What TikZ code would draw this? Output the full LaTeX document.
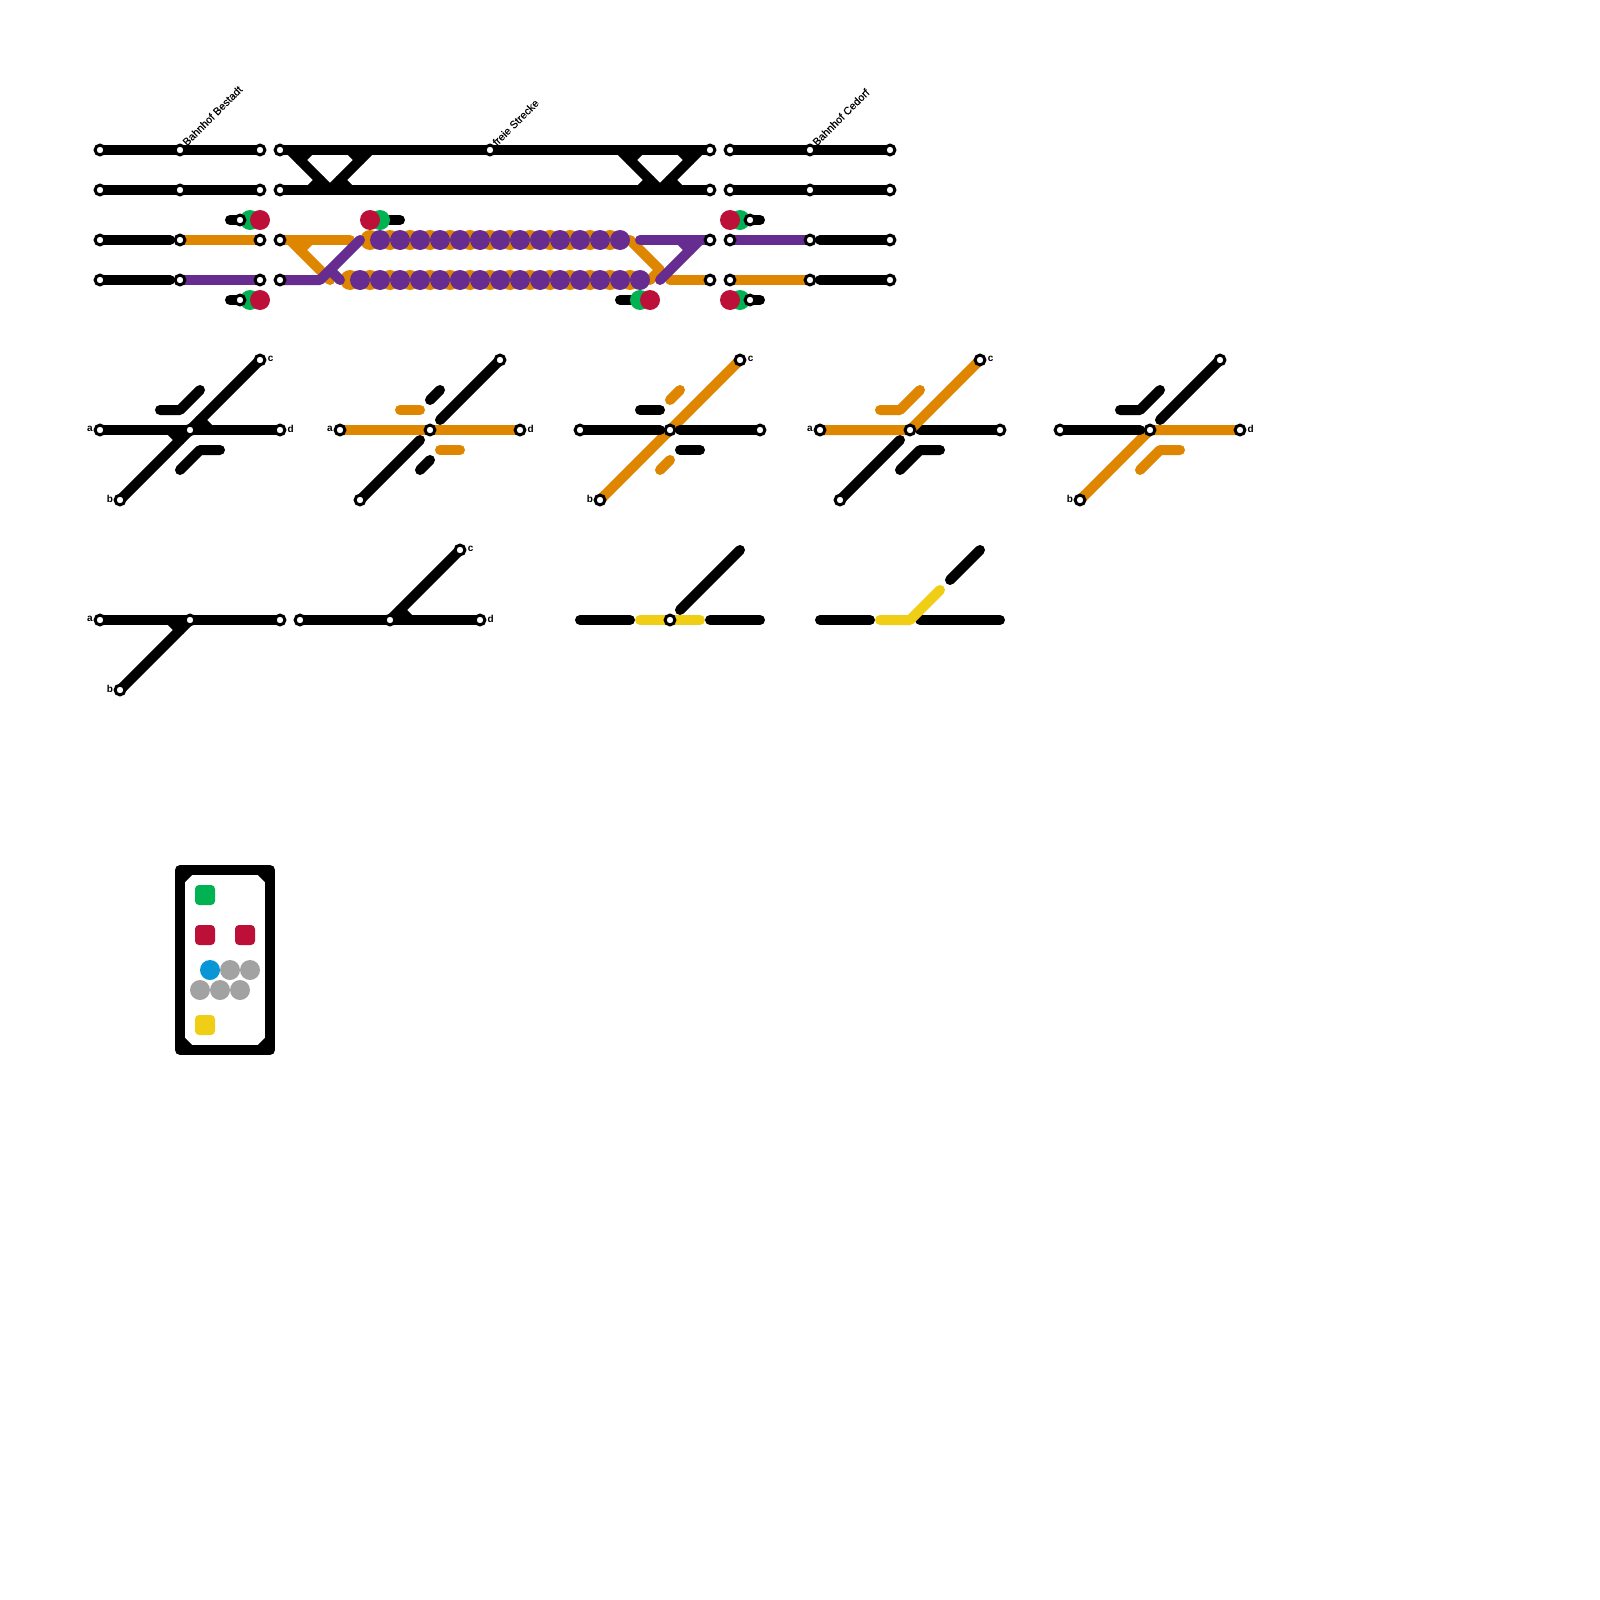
\documentclass[tikz,border=0pt]{standalone}
\usepackage{fontspec}
\setmainfont{Liberation Sans}
\newfontfamily\stfont{Liberation Sans}[FakeBold=0.35]
\definecolor{morange}{HTML}{DF8600}
\definecolor{mpurple}{HTML}{662C90}
\definecolor{mgreen}{HTML}{00B251}
\definecolor{mred}{HTML}{BD1038}
\definecolor{myellow}{HTML}{F0CE15}
\definecolor{mblue}{HTML}{0896D7}
\definecolor{mgrey}{HTML}{A2A2A2}
\tikzset{
  trk/.style={line width=10pt,line cap=round,line join=round},
  blk/.style={trk,black},
  org/.style={trk,morange},
  pur/.style={trk,mpurple},
  yel/.style={trk,myellow},
  stn/.style={circle,draw=black,fill=white,line width=3pt,inner sep=0pt,outer sep=0pt,minimum size=9.8pt},
  dot/.style={circle,inner sep=0pt,outer sep=0pt,minimum size=20pt},
  sq/.style={rectangle,rounded corners=4pt,inner sep=0pt,outer sep=0pt,minimum size=20pt},
  lab/.style={font=\fontsize{10}{10}\selectfont\bfseries,inner sep=0pt,text=black},
  stlab/.style={font=\stfont\fontsize{10.7}{10.7}\selectfont,inner sep=0pt,rotate=45,anchor=base west,text=black},
}
\begin{document}
\begin{tikzpicture}[x=1pt,y=-1pt]
\useasboundingbox (0,0) rectangle (1600,1600);
% named points
\foreach \n/\x/\y in {
 A1/100/150,A2/180/150,A3/260/150,B1/100/190,B2/180/190,B3/260/190,
 C1/100/240,C0/170/240,C2/180/240,C3/260/240,D1/100/280,D0/170/280,D2/180/280,D3/260/280,
 Sa/240/220,Sa0/230/220,Sb/240/300,Sb0/230/300,
 E1/280/150,E2/490/150,E3/710/150,F1/280/190,F3/710/190,
 G1/280/240,G2/350/240,G3/710/240,H1/280/280,H2/320/280,H3/710/280,
 x1/290/150,x2/330/190,x3/370/150,x4/620/150,x5/660/190,x6/700/150,
 c1a/310/150,c1b/300/160,c2a/350/150,c2b/360/160,c3a/310/190,c3b/320/180,c4a/350/190,c4b/340/180,
 c5a/640/150,c5b/630/160,c6a/680/150,c6b/690/160,c7a/640/190,c7b/650/180,c8a/680/190,c8b/670/180,
 o1/290/240,o2/330/280,o3/310/240,o4/300/250,
 p1/360/240,p2/330/270,p3/340/280,
 o5/630/240,o6/660/270,o7/650/280,o8/670/280,
 p4/640/240,p5/660/280,p6/680/240,p7/690/250,p8/700/240,
 s1/380/220,s2/400/220,s3/620/300,s4/640/300,
 J1/730/150,J2/810/150,J3/890/150,K1/730/190,K2/810/190,K3/890/190,
 L1/730/240,L2/810/240,L0/820/240,L3/890/240,M1/730/280,M2/810/280,M0/820/280,M3/890/280,
 Sc/750/220,Sc0/760/220,Sd/750/300,Sd0/760/300,
 %
 a1/100/430,m1/190/430,d1/280/430,b1/120/500,e1/260/360,
 f1/170/430,f2/180/440,f3/210/430,f4/200/420,
 u1/160/410,u2/180/410,u3/200/390,v1/180/470,v2/200/450,v3/220/450,
 a2/340/430,m2/430/430,d2/520/430,b2/360/500,e2/500/360,
 i2/420/440,j2/440/420,u4/400/410,u5/420/410,u6/430/400,u7/440/390,v4/440/450,v5/460/450,v6/420/470,v7/430/460,
 a3/580/430,m3/670/430,d3/760/430,b3/600/500,e3/740/360,
 i3/660/430,j3/680/430,u8/640/410,u9/660/410,u10/670/400,u11/680/390,v8/680/450,v9/700/450,v10/660/470,v11/670/460,
 a4/820/430,m4/910/430,d4/1000/430,b4/840/500,e4/980/360,
 i4/900/440,j4/920/430,u12/880/410,u13/900/410,u14/920/390,v12/900/470,v13/920/450,v14/940/450,
 a5/1060/430,m5/1150/430,d5/1240/430,b5/1080/500,e5/1220/360,
 i5/1140/430,j5/1160/420,u15/1120/410,u16/1140/410,u17/1160/390,v15/1140/470,v16/1160/450,v17/1180/450,
 %
 a6/100/620,m6/190/620,d6/280/620,b6/120/690,f5/170/620,f6/180/630,
 a7/300/620,m7/390/620,d7/480/620,e7/460/550,f7/410/620,f8/400/610,
 y1/580/620,y2/630/620,y3/640/620,m8/670/620,y4/700/620,y5/710/620,y6/760/620,y7/680/610,y8/740/550,
 w1/820/620,w2/870/620,w3/880/620,w4/910/620,w5/940/590,w6/950/580,w7/980/550,w8/920/620,w9/1000/620,
 %
 r1/180/870,r2/270/870,r3/270/1050,r4/180/1050,
 q1/190/870,q2/180/880,q3/260/870,q4/270/880,q5/270/1040,q6/260/1050,q7/190/1050,q8/180/1040
}{\coordinate (\n) at (\x,\y);}

% upper left block
\draw[blk] (A1)--(A3);
\draw[blk] (B1)--(B3);
\draw[blk] (C1)--(C0);
\draw[blk] (D1)--(D0);
\draw[org] (C2)--(C3);
\draw[pur] (D2)--(D3);
\draw[blk] (Sa0)--(Sa);
\draw[blk] (Sb0)--(Sb);
\node[dot,fill=mgreen] (ga) at (250,220) {};
\node[dot,fill=mred] (ra) at (260,220) {};
\node[dot,fill=mgreen] (gb) at (250,300) {};
\node[dot,fill=mred] (rb) at (260,300) {};

% middle block
\draw[blk] (E1)--(E3);
\draw[blk] (F1)--(F3);
\draw[blk] (x1)--(x2)--(x3);
\draw[blk] (x4)--(x5)--(x6);
\draw[blk] (c1a)--(c1b);
\draw[blk] (c2a)--(c2b);
\draw[blk] (c3a)--(c3b);
\draw[blk] (c4a)--(c4b);
\draw[blk] (c5a)--(c5b);
\draw[blk] (c6a)--(c6b);
\draw[blk] (c7a)--(c7b);
\draw[blk] (c8a)--(c8b);

\draw[org] (G1)--(G2);
\draw[org] (o1)--(o2);
\draw[org] (o3)--(o4);
\draw[org] (o5)--(o6)--(o7);
\draw[org] (o8)--(H3);
\foreach \x in {370,390,...,610} \node[dot,fill=morange] (ot\x) at (\x,240) {};
\foreach \x in {350,370,...,630} \node[dot,fill=morange] (ob\x) at (\x,280) {};
\foreach \x in {380,400,...,620} \node[dot,fill=mpurple] (pt\x) at (\x,240) {};
\foreach \x in {360,380,...,640} \node[dot,fill=mpurple] (pb\x) at (\x,280) {};
\draw[pur] (H1)--(H2)--(p1);
\draw[pur] (p2)--(p3);
\draw[pur] (p4)--(G3);
\draw[pur] (p8)--(p5);
\draw[pur] (p6)--(p7);

\draw[blk] (s1)--(s2);
\draw[blk] (s3)--(s4);
\node[dot,fill=mgreen] (gc) at (380,220) {};
\node[dot,fill=mred] (rc) at (370,220) {};
\node[dot,fill=mgreen] (gd) at (640,300) {};
\node[dot,fill=mred] (rd) at (650,300) {};

% upper right block
\draw[blk] (J1)--(J3);
\draw[blk] (K1)--(K3);
\draw[pur] (L1)--(L2);
\draw[org] (M1)--(M2);
\draw[blk] (L0)--(L3);
\draw[blk] (M0)--(M3);
\draw[blk] (Sc)--(Sc0);
\draw[blk] (Sd)--(Sd0);
\node[dot,fill=mgreen] (ge) at (740,220) {};
\node[dot,fill=mred] (re) at (730,220) {};
\node[dot,fill=mgreen] (gf) at (740,300) {};
\node[dot,fill=mred] (rf) at (730,300) {};

% switch 1
\draw[blk] (a1)--(d1);
\draw[blk] (b1)--(e1);
\draw[blk] (f1)--(f2);
\draw[blk] (f3)--(f4);
\draw[blk] (u1)--(u2)--(u3);
\draw[blk] (v1)--(v2)--(v3);
% switch 2
\draw[org] (a2)--(d2);
\draw[blk] (b2)--(i2);
\draw[blk] (j2)--(e2);
\draw[org] (u4)--(u5);
\draw[blk] (u6)--(u7);
\draw[org] (v4)--(v5);
\draw[blk] (v6)--(v7);
% switch 3
\draw[org] (b3)--(e3);
\draw[blk] (a3)--(i3);
\draw[blk] (j3)--(d3);
\draw[blk] (u8)--(u9);
\draw[org] (u10)--(u11);
\draw[blk] (v8)--(v9);
\draw[org] (v10)--(v11);
% switch 4
\draw[blk] (b4)--(i4);
\draw[blk] (j4)--(d4);
\draw[org] (a4)--(m4)--(e4);
\draw[org] (u12)--(u13)--(u14);
\draw[blk] (v12)--(v13)--(v14);
% switch 5
\draw[org] (b5)--(m5)--(d5);
\draw[blk] (a5)--(i5);
\draw[blk] (j5)--(e5);
\draw[blk] (u15)--(u16)--(u17);
\draw[org] (v15)--(v16)--(v17);
% switch 6, 7
\draw[blk] (a6)--(d6);
\draw[blk] (b6)--(m6);
\draw[blk] (f5)--(f6);
\draw[blk] (a7)--(d7);
\draw[blk] (m7)--(e7);
\draw[blk] (f7)--(f8);
% switch 8
\draw[blk] (y1)--(y2);
\draw[yel] (y3)--(y4);
\draw[blk] (y5)--(y6);
\draw[blk] (y7)--(y8);
% switch 9
\draw[blk] (w1)--(w2);
\draw[blk] (w8)--(w9);
\draw[yel] (w3)--(w4)--(w5);
\draw[blk] (w6)--(w7);

% legend
\draw[blk,line cap=butt] (r1)--(r2)--(r3)--(r4)--cycle;
\draw[blk] (q1)--(q2);
\draw[blk] (q3)--(q4);
\draw[blk] (q5)--(q6);
\draw[blk] (q7)--(q8);
\node[sq,fill=mgreen] (lg) at (205,895) {};
\node[sq,fill=mred] (lr1) at (205,935) {};
\node[sq,fill=mred] (lr2) at (245,935) {};
\node[sq,fill=myellow] (ly) at (205,1025) {};
\node[dot,fill=mblue] (lb) at (210,970) {};
\node[dot,fill=mgrey] (lg1) at (230,970) {};
\node[dot,fill=mgrey] (lg2) at (250,970) {};
\node[dot,fill=mgrey] (lg3) at (200,990) {};
\node[dot,fill=mgrey] (lg4) at (220,990) {};
\node[dot,fill=mgrey] (lg5) at (240,990) {};

% stations
\foreach \n in {A1,A2,A3,B1,B2,B3,C1,C2,C3,D1,D2,D3,Sa,Sb,
  E1,E2,E3,F1,F3,G1,G3,H1,H3,
  J1,J2,J3,K1,K2,K3,L1,L2,L3,M1,M2,M3,Sc,Sd,
  a1,m1,d1,b1,e1,a2,m2,d2,b2,e2,a3,m3,d3,b3,e3,a4,m4,d4,b4,e4,a5,m5,d5,b5,e5,
  a6,m6,d6,b6,a7,m7,d7,e7,m8}
  \node[stn] (st\n) at (\n) {};

% station labels
\node[stlab] (tb) at (187,146.5) {Bahnhof Bestadt};
\node[stlab] (tf) at (497,146.5) {freie Strecke};
\node[stlab] (tc) at (817,146.5) {Bahnhof Cedorf};

% point labels
\foreach \p/\t/\dx/\dy in {a1/a/-10/1,d1/d/10.7/1,b1/b/-10/1,e1/c/10.7/1,
  a2/a/-10/1,d2/d/10.7/1,
  b3/b/-10/1,e3/c/10.7/1,
  a4/a/-10/1,e4/c/10.7/1,
  b5/b/-10/1,d5/d/10.7/1,
  a6/a/-10/1,b6/b/-10/1,
  e7/c/10.7/1,d7/d/10.7/1}
  \node[lab] (lb\p) at ([xshift=\dx pt,yshift=\dy pt]\p) {\t};
\end{tikzpicture}
\end{document}
